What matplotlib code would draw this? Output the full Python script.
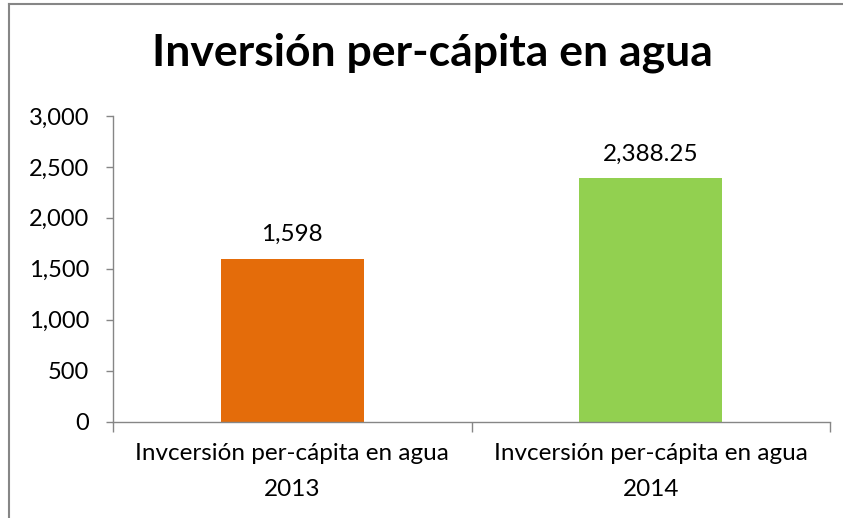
import matplotlib
matplotlib.use("Agg")
import matplotlib.pyplot as plt
from matplotlib.lines import Line2D
from matplotlib.ticker import FuncFormatter

categories = ["Invcersión per-cápita en agua\n2013", "Invcersión per-cápita en agua\n2014"]
values = [1598, 2388.25]
value_labels = ["1,598", "2,388.25"]
colors = ["#E46C0A", "#92D050"]
yticks = [0, 500, 1000, 1500, 2000, 2500, 3000]

plt.rcParams['font.family'] = ['Lato', 'DejaVu Sans']

W, H = 843, 518
fig = plt.figure(figsize=(W / 100, H / 100), dpi=100)
ax = fig.add_axes([113 / W, 1 - 421.5 / H, (830 - 113) / W, (421.5 - 116) / H])

x = list(range(len(categories)))
ax.bar(x, values, width=0.4, color=colors)
ax.set_xlim(-0.5, len(categories) - 0.5)
ax.set_ylim(0, 3000)
ax.set_yticks(yticks)
ax.yaxis.set_major_formatter(FuncFormatter(lambda v, p: f"{int(v):,}"))

ax.set_xticks([-0.5, 0.5, 1.5])
ax.set_xticklabels([])
ax.tick_params(axis='x', length=7, color='#868686', width=1, direction='out')
ax.tick_params(axis='y', length=5, color='#868686', width=1, direction='out',
               labelsize=17, pad=12)
for lab in ax.get_yticklabels():
    lab.set_color('#000000')

for xi, cat in zip(x, categories):
    ax.annotate(cat, xy=(xi, 0), xycoords=('data', 'axes fraction'),
                xytext=(0, -15.5), textcoords='offset points', ha='center', va='top',
                fontsize=17.5, linespacing=1.9)

for xi, v, lab in zip(x, values, value_labels):
    ax.annotate(lab, xy=(xi, v), xytext=(0, 10), textcoords='offset points',
                ha='center', va='bottom', fontsize=17.5)

for s in ['top', 'right']:
    ax.spines[s].set_visible(False)
for s in ['left', 'bottom']:
    ax.spines[s].set_color('#868686')
    ax.spines[s].set_linewidth(1)

fig.text((152 + 712) / 2 / W, 1 - 53 / H, "Inversión per-cápita en agua",
         ha='center', va='center', fontsize=32, fontweight='bold')

# outer frame (cropped chart border)
fig.add_artist(Line2D([9 / W, 1], [1 - 4 / H, 1 - 4 / H], color='#868686', lw=1.5,
                      transform=fig.transFigure))
fig.add_artist(Line2D([9 / W, 9 / W], [0, 1 - 4 / H], color='#868686', lw=1.5,
                      transform=fig.transFigure))

fig.savefig("out.png", dpi=100, facecolor='white')
